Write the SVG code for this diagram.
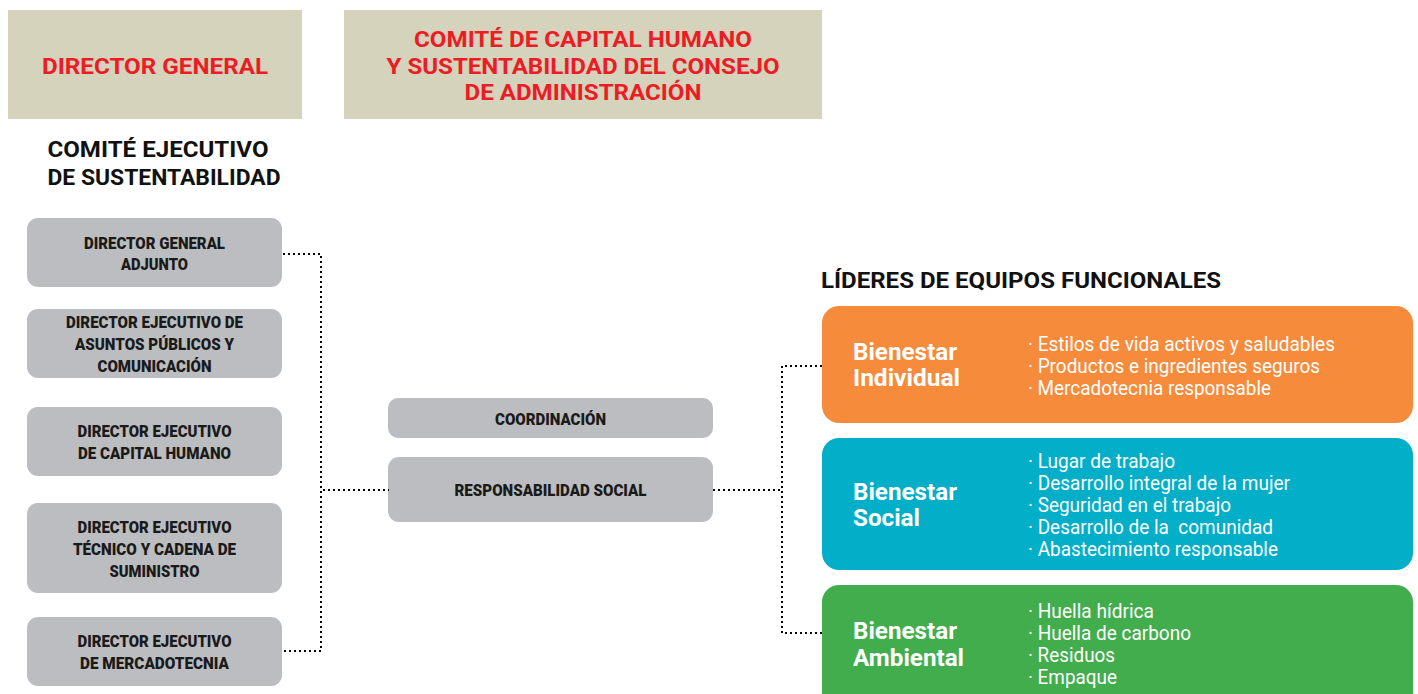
<svg xmlns="http://www.w3.org/2000/svg" width="1418" height="694" viewBox="0 0 1418 694">
<style>
.hdr{fill:#d5d3bb}
.red{font-family:Roboto,"Liberation Sans",sans-serif;font-weight:700;font-size:22px;fill:#ec1c24;text-anchor:middle}
.ttl{font-family:Roboto,"Liberation Sans",sans-serif;font-weight:700;font-size:22px;fill:#111}
.gb{fill:#bcbdc0}
.gt{font-family:Roboto,"Liberation Sans",sans-serif;font-weight:900;font-size:16px;fill:#1a1a1a;text-anchor:middle}
.bt{font-family:Roboto,"Liberation Sans",sans-serif;font-weight:700;font-size:23px;fill:#fff}
.it{font-family:Roboto,"Liberation Sans",sans-serif;font-weight:400;font-size:21px;fill:#fff}
.dot{fill:none;stroke:#000;stroke-width:2;stroke-dasharray:2 3}
</style>

<g id="director-general">
<rect class="hdr" x="8" y="10" width="294" height="109"/>
<text class="red" x="155" y="74" textLength="226" lengthAdjust="spacingAndGlyphs">DIRECTOR GENERAL</text>
</g>

<g id="comite-capital-humano">
<rect class="hdr" x="344" y="10" width="478" height="109"/>
<text class="red" x="583" y="47" textLength="338" lengthAdjust="spacingAndGlyphs">COMITÉ DE CAPITAL HUMANO</text>
<text class="red" x="583" y="74" textLength="393" lengthAdjust="spacingAndGlyphs">Y SUSTENTABILIDAD DEL CONSEJO</text>
<text class="red" x="583" y="100" textLength="237" lengthAdjust="spacingAndGlyphs">DE ADMINISTRACIÓN</text>
</g>

<g id="comite-ejecutivo-title">
<text class="ttl" x="158" y="157" text-anchor="middle" textLength="221" lengthAdjust="spacingAndGlyphs">COMITÉ EJECUTIVO</text>
<text class="ttl" x="164" y="185" text-anchor="middle" textLength="233" lengthAdjust="spacingAndGlyphs">DE SUSTENTABILIDAD</text>
</g>

<g id="dg-adjunto">
<rect class="gb" x="27" y="218" width="255" height="69" rx="11"/>
<text class="gt" x="154.5" y="248.5" textLength="141" lengthAdjust="spacingAndGlyphs">DIRECTOR GENERAL</text>
<text class="gt" x="154.5" y="270" textLength="67" lengthAdjust="spacingAndGlyphs">ADJUNTO</text>
</g>

<g id="de-asuntos-publicos">
<rect class="gb" x="27" y="309" width="255" height="69" rx="11"/>
<text class="gt" x="154.5" y="327.5" textLength="177" lengthAdjust="spacingAndGlyphs">DIRECTOR EJECUTIVO DE</text>
<text class="gt" x="154.5" y="349.5" textLength="159" lengthAdjust="spacingAndGlyphs">ASUNTOS PÚBLICOS Y</text>
<text class="gt" x="154.5" y="371.5" textLength="114" lengthAdjust="spacingAndGlyphs">COMUNICACIÓN</text>
</g>

<g id="de-capital-humano">
<rect class="gb" x="27" y="407" width="255" height="69" rx="11"/>
<text class="gt" x="154.5" y="436.5" textLength="154" lengthAdjust="spacingAndGlyphs">DIRECTOR EJECUTIVO</text>
<text class="gt" x="154.5" y="458.5" textLength="153" lengthAdjust="spacingAndGlyphs">DE CAPITAL HUMANO</text>
</g>

<g id="de-tecnico">
<rect class="gb" x="27" y="503" width="255" height="90" rx="11"/>
<text class="gt" x="154.5" y="532.5" textLength="154" lengthAdjust="spacingAndGlyphs">DIRECTOR EJECUTIVO</text>
<text class="gt" x="154.5" y="554.5" textLength="163" lengthAdjust="spacingAndGlyphs">TÉCNICO Y CADENA DE</text>
<text class="gt" x="154.5" y="576.5" textLength="90" lengthAdjust="spacingAndGlyphs">SUMINISTRO</text>
</g>

<g id="de-mercadotecnia">
<rect class="gb" x="27" y="617" width="255" height="69" rx="11"/>
<text class="gt" x="154.5" y="646.5" textLength="154" lengthAdjust="spacingAndGlyphs">DIRECTOR EJECUTIVO</text>
<text class="gt" x="154.5" y="668.5" textLength="149" lengthAdjust="spacingAndGlyphs">DE MERCADOTECNIA</text>
</g>

<g id="coordinacion">
<rect class="gb" x="388" y="398" width="325" height="40" rx="10"/>
<text class="gt" x="550.5" y="424.5" textLength="111" lengthAdjust="spacingAndGlyphs">COORDINACIÓN</text>
</g>

<g id="responsabilidad-social">
<rect class="gb" x="388" y="457" width="325" height="65" rx="11"/>
<text class="gt" x="550.5" y="495.5" textLength="192" lengthAdjust="spacingAndGlyphs">RESPONSABILIDAD SOCIAL</text>
</g>

<g id="lideres-title">
<text class="ttl" x="821" y="288" textLength="400" lengthAdjust="spacingAndGlyphs">LÍDERES DE EQUIPOS FUNCIONALES</text>
</g>

<g id="bienestar-individual">
<rect x="822" y="306" width="591" height="117" rx="17" fill="#f68b3c"/>
<text class="bt" x="853" y="360" textLength="104" lengthAdjust="spacingAndGlyphs">Bienestar</text>
<text class="bt" x="853" y="386" textLength="107" lengthAdjust="spacingAndGlyphs">Individual</text>
<text class="it" x="1028" y="351" textLength="307" lengthAdjust="spacingAndGlyphs">· Estilos de vida activos y saludables</text>
<text class="it" x="1028" y="373" textLength="292" lengthAdjust="spacingAndGlyphs">· Productos e ingredientes seguros</text>
<text class="it" x="1028" y="395" textLength="243" lengthAdjust="spacingAndGlyphs">· Mercadotecnia responsable</text>
</g>

<g id="bienestar-social">
<rect x="822" y="438" width="591" height="132" rx="17" fill="#02aec8"/>
<text class="bt" x="853" y="500" textLength="104" lengthAdjust="spacingAndGlyphs">Bienestar</text>
<text class="bt" x="853" y="526" textLength="67" lengthAdjust="spacingAndGlyphs">Social</text>
<text class="it" x="1028" y="468" textLength="147" lengthAdjust="spacingAndGlyphs">· Lugar de trabajo</text>
<text class="it" x="1028" y="490" textLength="262" lengthAdjust="spacingAndGlyphs">· Desarrollo integral de la mujer</text>
<text class="it" x="1028" y="512" textLength="203" lengthAdjust="spacingAndGlyphs">· Seguridad en el trabajo</text>
<text class="it" x="1028" y="534" textLength="245" lengthAdjust="spacingAndGlyphs" xml:space="preserve">· Desarrollo de la  comunidad</text>
<text class="it" x="1028" y="556" textLength="250" lengthAdjust="spacingAndGlyphs">· Abastecimiento responsable</text>
</g>

<g id="bienestar-ambiental">
<rect x="822" y="585" width="591" height="126" rx="17" fill="#42ad4d"/>
<text class="bt" x="853" y="639" textLength="104" lengthAdjust="spacingAndGlyphs">Bienestar</text>
<text class="bt" x="853" y="666" textLength="111" lengthAdjust="spacingAndGlyphs">Ambiental</text>
<text class="it" x="1028" y="618" textLength="126" lengthAdjust="spacingAndGlyphs">· Huella hídrica</text>
<text class="it" x="1028" y="640" textLength="163" lengthAdjust="spacingAndGlyphs">· Huella de carbono</text>
<text class="it" x="1028" y="662" textLength="87" lengthAdjust="spacingAndGlyphs">· Residuos</text>
<text class="it" x="1028" y="684" textLength="89" lengthAdjust="spacingAndGlyphs">· Empaque</text>
</g>

<g id="connectors">
<path class="dot" d="M283 254 H321 V651 H283"/>
<path class="dot" d="M323 490 H389"/>
<path class="dot" d="M713 490 H782"/>
<path class="dot" d="M822 366 H782 V633 H822"/>
</g>
</svg>
